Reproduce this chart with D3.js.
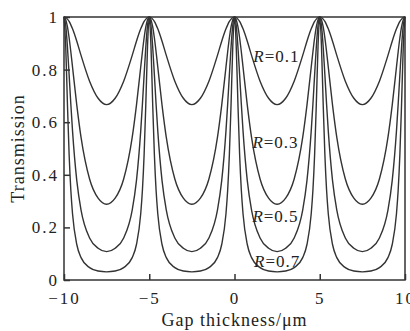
<!DOCTYPE html>
<html><head><meta charset="utf-8">
<script src="https://cdn.jsdelivr.net/npm/d3@7"></script>
<style>body{margin:0;background:#fff}svg{display:block}text{font-family:"Liberation Serif","Times New Roman",serif;fill:#222}</style>
</head><body>
<script>
const xs = [-10,-9.9,-9.8,-9.7,-9.6,-9.5,-9.25,-9,-8.5,-8,-7.5,-7,-6.5,-6,-5.75,-5.5,-5.4,-5.3,-5.2,-5.1,
 -5,-4.9,-4.8,-4.7,-4.6,-4.5,-4.25,-4,-3.5,-3,-2.5,-2,-1.5,-1,-0.75,-0.5,-0.4,-0.3,-0.2,-0.1,
 0,0.1,0.2,0.3,0.4,0.5,0.75,1,1.5,2,2.5,3,3.5,4,4.25,4.5,4.6,4.7,4.8,4.9,
 5,5.1,5.2,5.3,5.4,5.5,5.75,6,6.5,7,7.5,8,8.5,9,9.25,9.5,9.6,9.7,9.8,9.9,10];
const t01 = [1,.998,.992,.983,.970,.955,.908,.854,.756,.691,.667,.691,.756,.854,.908,.955,.970,.983,.992,.998,
 1,.998,.992,.983,.970,.955,.908,.854,.756,.691,.667,.691,.756,.854,.908,.955,.970,.983,.992,.998,
 1,.998,.992,.983,.970,.955,.908,.854,.756,.691,.667,.691,.756,.854,.908,.955,.970,.983,.992,.998,
 1,.998,.992,.983,.970,.955,.908,.854,.756,.691,.667,.691,.756,.854,.908,.955,.970,.983,.992,.998,1];
const t03 = [1,.990,.963,.921,.868,.810,.665,.542,.384,.311,.288,.311,.384,.542,.665,.810,.868,.921,.963,.990,
 1,.990,.963,.921,.868,.810,.665,.542,.384,.311,.288,.311,.384,.542,.665,.810,.868,.921,.963,.990,
 1,.990,.963,.921,.868,.810,.665,.542,.384,.311,.288,.311,.384,.542,.665,.810,.868,.921,.963,.990,
 1,.990,.963,.921,.868,.810,.665,.542,.384,.311,.288,.311,.384,.542,.665,.810,.868,.921,.963,.990,1];
const t05 = [1,.969,.888,.781,.669,.567,.378,.266,.160,.121,.108,.121,.160,.266,.378,.567,.669,.781,.888,.969,
 1,.969,.888,.781,.669,.567,.378,.266,.160,.121,.108,.121,.160,.266,.378,.567,.669,.781,.888,.969,
 1,.969,.888,.781,.669,.567,.378,.266,.160,.121,.108,.121,.160,.266,.378,.567,.669,.781,.888,.969,
 1,.969,.888,.781,.669,.567,.378,.266,.160,.121,.108,.121,.160,.266,.378,.567,.669,.781,.888,.969,1];
const t07 = [1,.891,.672,.478,.342,.252,.135,.085,.047,.034,.031,.034,.047,.085,.135,.252,.342,.478,.672,.891,
 1,.891,.672,.478,.342,.252,.135,.085,.047,.034,.031,.034,.047,.085,.135,.252,.342,.478,.672,.891,
 1,.891,.672,.478,.342,.252,.135,.085,.047,.034,.031,.034,.047,.085,.135,.252,.342,.478,.672,.891,
 1,.891,.672,.478,.342,.252,.135,.085,.047,.034,.031,.034,.047,.085,.135,.252,.342,.478,.672,.891,1];
const seriesNames = ["0.1","0.3","0.5","0.7"];
const seriesValues = [t01,t03,t05,t07];
const labelPos = [[1.1,0.848],[1.05,0.521],[1.05,0.240],[1.15,0.068]]; // [x (µm), T] of label centre-left
const xTicks = [-10,-5,0,5,10];
const yTicks = [0,0.2,0.4,0.6,0.8,1];
const yTickLabels = ["0","0.2","0.4","0.6","0.8","1"];

const W=410,H=331, L=64, R=405, T=17, B=280;
const svg = d3.select("body").append("svg").attr("width",W).attr("height",H);
const x = d3.scaleLinear().domain([-10,10]).range([L,R]);
const y = d3.scaleLinear().domain([0,1]).range([B,T]);

const line = d3.line().x((d,i)=>x(xs[i])).y(d=>y(d)).curve(d3.curveMonotoneX);
const g = svg.append("g");
seriesValues.forEach(v=>{
  g.append("path").attr("d",line(v)).attr("fill","none").attr("stroke","#333").attr("stroke-width",1.4);
});

// frame
svg.append("rect").attr("x",L).attr("y",T).attr("width",R-L).attr("height",B-T)
  .attr("fill","none").attr("stroke","#333").attr("stroke-width",1.5);

// axes with inward ticks
const xa = svg.append("g").attr("transform",`translate(0,${B})`)
  .call(d3.axisBottom(x).tickValues(xTicks).tickSize(-6).tickPadding(12).tickFormat(d=>d<0?"\u2212"+(-d):d));
const ya = svg.append("g").attr("transform",`translate(${L},0)`)
  .call(d3.axisLeft(y).tickValues(yTicks).tickSize(-6).tickPadding(5).tickFormat((d,i)=>yTickLabels[i]));
[xa,ya].forEach(a=>{
  a.select(".domain").remove();
  a.selectAll("line").attr("stroke","#333").attr("stroke-width",1.5);
  a.selectAll("text").style("font-family",'"Liberation Serif",serif').style("font-size","17px").attr("fill","#222").style("letter-spacing","2px");
});

// labels
seriesNames.forEach((n,i)=>{
  const t = svg.append("text").attr("x",x(labelPos[i][0])).attr("y",y(labelPos[i][1])+5).style("font-size","17px").style("letter-spacing","1px");
  t.append("tspan").style("font-style","italic").text("R");
  t.append("tspan").text("="+n);
});

svg.append("text").attr("x",(L+R)/2).attr("y",326).attr("text-anchor","middle").style("font-size","18px").style("letter-spacing","1px").text("Gap thickness/\u03bcm");
svg.append("text").attr("transform",`translate(24,${(T+B)/2}) rotate(-90)`).attr("text-anchor","middle").style("font-size","18px").style("letter-spacing","1px").text("Transmission");
</script>
</body></html>
